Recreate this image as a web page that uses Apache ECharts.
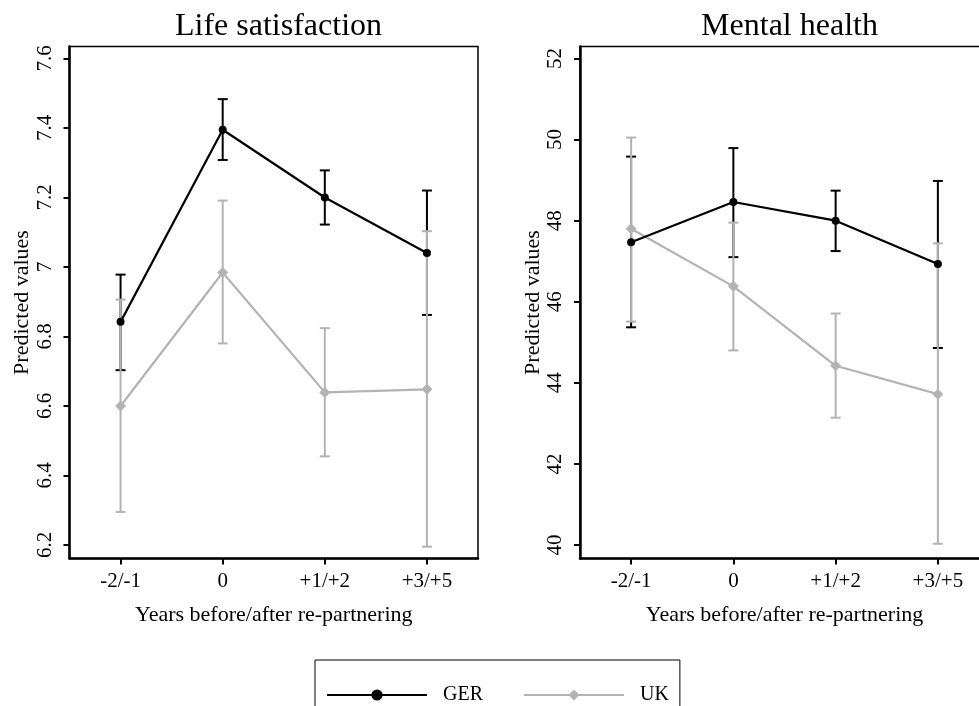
<!DOCTYPE html>
<html>
<head>
<meta charset="utf-8">
<script src="https://cdn.jsdelivr.net/npm/echarts@6/dist/echarts.min.js"></script>
<style>html,body{margin:0;padding:0;background:#fff;}#c{width:979px;height:706px;}</style>
</head>
<body>
<div id="c"></div>
<script>
const categories = ['-2/-1', '0', '+1/+2', '+3/+5'];
const lifeGER   = [6.842, 7.395, 7.200, 7.040];
const lifeGERlo = [6.703, 7.308, 7.122, 6.862];
const lifeGERhi = [6.978, 7.483, 7.278, 7.220];
const lifeUK    = [6.600, 6.984, 6.639, 6.648];
const lifeUKlo  = [6.295, 6.780, 6.455, 6.195];
const lifeUKhi  = [6.906, 7.191, 6.824, 7.103];
const mentalGER   = [47.47, 48.46, 48.00, 46.93];
const mentalGERlo = [45.37, 47.10, 47.25, 44.86];
const mentalGERhi = [49.58, 49.79, 48.74, 48.98];
const mentalUK    = [47.80, 46.38, 44.42, 43.72];
const mentalUKlo  = [45.51, 44.80, 43.14, 40.03];
const mentalUKhi  = [50.05, 47.95, 45.71, 47.44];
const lifeTicks = [6.2, 6.4, 6.6, 6.8, 7, 7.2, 7.4, 7.6];
const mentalTicks = [40, 42, 44, 46, 48, 50, 52];
const titles = ['Life satisfaction', 'Mental health'];
const xName = 'Years before/after re-partnering';
const yName = 'Predicted values';

const FONT = '"Liberation Serif", "DejaVu Serif", serif';
const GER_C = '#000000';
const UK_C = '#b3b3b3';

function errData(lo, hi) { return lo.map((v, i) => [i, v, hi[i]]); }
function errRender(color) {
  return function (params, api) {
    const x = api.value(0);
    const p1 = api.coord([x, api.value(1)]);
    const p2 = api.coord([x, api.value(2)]);
    const w = 5;
    const st = { stroke: color, lineWidth: 2 };
    return {
      type: 'group',
      children: [
        { type: 'line', shape: { x1: p1[0], y1: p1[1], x2: p2[0], y2: p2[1] }, style: st },
        { type: 'line', shape: { x1: p1[0] - w, y1: p1[1], x2: p1[0] + w, y2: p1[1] }, style: st },
        { type: 'line', shape: { x1: p2[0] - w, y1: p2[1], x2: p2[0] + w, y2: p2[1] }, style: st }
      ]
    };
  };
}

function xAxis(gi) {
  return {
    type: 'category', gridIndex: gi, data: categories, boundaryGap: true,
    axisLine: { show: true, lineStyle: { color: '#000', width: 2.5 } },
    axisTick: { show: true, alignWithLabel: true, length: 6, lineStyle: { color: '#000', width: 2 } },
    axisLabel: { color: '#000', fontFamily: FONT, fontSize: 21, margin: 12 },
    splitLine: { show: false },
    name: xName, nameLocation: 'middle', nameGap: 46,
    nameTextStyle: { color: '#000', fontFamily: FONT, fontSize: 22 }
  };
}
function yAxis(gi, min, max, ticks) {
  return {
    type: 'value', gridIndex: gi, min: min, max: max,
    axisLine: { show: true, lineStyle: { color: '#000', width: 2.5 } },
    axisTick: { show: true, length: 6, customValues: ticks, lineStyle: { color: '#000', width: 2 } },
    axisLabel: { color: '#000', fontFamily: FONT, fontSize: 21, rotate: 90, margin: 14, customValues: ticks },
    splitLine: { show: false },
    name: yName, nameLocation: 'middle', nameGap: 36, nameRotate: 90,
    nameTextStyle: { color: '#000', fontFamily: FONT, fontSize: 22 }
  };
}

function lineSeries(name, gi, data, color, symbol, size) {
  return {
    name: name, type: 'line', xAxisIndex: gi, yAxisIndex: gi, data: data,
    symbol: symbol, symbolSize: size, showSymbol: true,
    lineStyle: { color: color, width: 2.2 }, itemStyle: { color: color },
    z: name === 'GER' ? 5 : 4, animation: false
  };
}
function errSeries(name, gi, lo, hi, color, z) {
  return {
    name: name, type: 'custom', xAxisIndex: gi, yAxisIndex: gi,
    data: errData(lo, hi), renderItem: errRender(color),
    encode: { x: 0, y: [1, 2] }, z: z, animation: false, clip: false
  };
}

const chart = echarts.init(document.getElementById('c'), null, { renderer: 'canvas' });
chart.setOption({
  backgroundColor: '#fff',
  animation: false,
  title: [
    { text: titles[0], left: 273.5, top: 6, textAlign: 'center', textStyle: { fontFamily: FONT, fontWeight: 'normal', fontSize: 32, color: '#000' } },
    { text: titles[1], left: 784.5, top: 6, textAlign: 'center', textStyle: { fontFamily: FONT, fontWeight: 'normal', fontSize: 32, color: '#000' } }
  ],
  grid: [
    { left: 69.5, top: 46.5, width: 408.5, height: 512, show: true, borderColor: '#000', borderWidth: 1.5, backgroundColor: 'transparent', outerBoundsMode: 'none', containLabel: false },
    { left: 580, top: 46.5, width: 409, height: 512, show: true, borderColor: '#000', borderWidth: 1.5, backgroundColor: 'transparent', outerBoundsMode: 'none', containLabel: false }
  ],
  xAxis: [xAxis(0), xAxis(1)],
  yAxis: [yAxis(0, 6.161, 7.6345, lifeTicks), yAxis(1, 39.667, 52.296, mentalTicks)],
  legend: {
    data: ['GER', 'UK'], left: 315, top: 660, orient: 'horizontal',
    itemWidth: 100, itemHeight: 14, itemGap: 40,
    padding: [25, 11, 27, 11], borderColor: '#000', borderWidth: 1,
    textStyle: { fontFamily: FONT, fontSize: 20, color: '#000', padding: [0, 0, 0, 11] }
  },
  series: [
    errSeries('GER ci', 0, lifeGERlo, lifeGERhi, GER_C, 2),
    errSeries('UK ci', 0, lifeUKlo, lifeUKhi, UK_C, 3),
    lineSeries('UK', 0, lifeUK, UK_C, 'diamond', 11),
    lineSeries('GER', 0, lifeGER, GER_C, 'circle', 8),
    errSeries('GER ci', 1, mentalGERlo, mentalGERhi, GER_C, 2),
    errSeries('UK ci', 1, mentalUKlo, mentalUKhi, UK_C, 3),
    lineSeries('UK', 1, mentalUK, UK_C, 'diamond', 11),
    lineSeries('GER', 1, mentalGER, GER_C, 'circle', 8)
  ]
});
</script>
</body>
</html>
